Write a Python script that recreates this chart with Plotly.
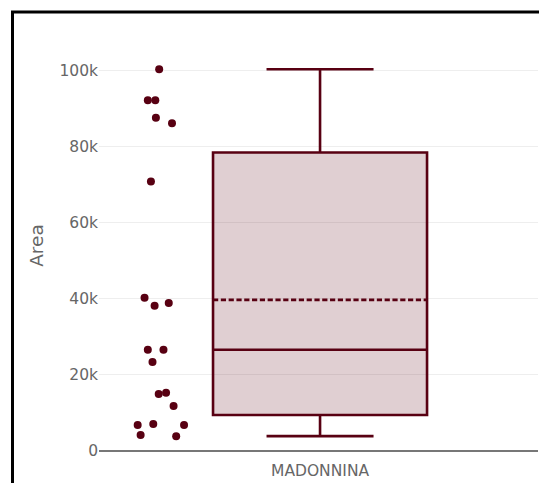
import plotly.graph_objects as go

category = "MADONNINA"
area_values = [100300, 92200, 92200, 87600, 86100, 70800, 40300, 38200, 38900,
               26600, 26600, 23400, 15000, 15300, 11800, 6800, 7100, 6800, 4200, 3900]
y_tick_vals = [0, 20000, 40000, 60000, 80000, 100000]
y_tick_text = ["0", "20k", "40k", "60k", "80k", "100k"]

line_color = "rgb(88,0,18)"
fill_color = "rgba(88,0,18,0.19)"

# page has an 8px body margin; figure coords = page coords - 8
W, H = 539, 475
ml, mr, mt, mb = 91, 9, 32, 32

fig = go.Figure()
fig.add_trace(go.Box(
    y=area_values,
    x=[category] * len(area_values),
    name=category,
    boxpoints="all",
    pointpos=-1.5,
    jitter=0.3,
    boxmean=True,
    width=0.975,
    line=dict(color=line_color, width=2.6),
    fillcolor=fill_color,
    marker=dict(color=line_color, size=8),
    showlegend=False,
))

# container border (left + top)
px_to_paper_x = lambda px: (px - ml) / (W - ml - mr)
px_to_paper_y = lambda py: (H - mb - py) / (H - mt - mb)
fig.add_shape(type="line", xref="paper", yref="paper",
              x0=px_to_paper_x(4.5), x1=px_to_paper_x(4.5),
              y0=px_to_paper_y(3), y1=px_to_paper_y(490),
              line=dict(color="black", width=3))
fig.add_shape(type="line", xref="paper", yref="paper",
              x0=px_to_paper_x(3), x1=px_to_paper_x(560),
              y0=px_to_paper_y(4), y1=px_to_paper_y(4),
              line=dict(color="black", width=3))

font_family = "DejaVu Sans, Verdana, sans-serif"
text_color = "#666"
fig.update_layout(
    width=W, height=H,
    margin=dict(l=ml, r=mr, t=mt, b=mb),
    paper_bgcolor="white",
    plot_bgcolor="white",
    font=dict(family=font_family, color=text_color, size=15),
    xaxis=dict(type="category", range=[-1.007, 0.993], showgrid=False, zeroline=False,
               tickfont=dict(size=15.5, color=text_color), showline=False,
               ticks="outside", ticklen=5, tickcolor="rgba(0,0,0,0)", automargin=False),
    yaxis=dict(range=[0, 108000], tickvals=y_tick_vals, ticktext=y_tick_text,
               gridcolor="#eeeeee", gridwidth=1, zeroline=True,
               zerolinecolor="#777", zerolinewidth=2, automargin=False,
               title=dict(text="Area", font=dict(size=18.5, color=text_color), standoff=10),
               tickfont=dict(size=15.5, color=text_color), ticks="", ticklen=0),
)

fig.write_html("out.html")
